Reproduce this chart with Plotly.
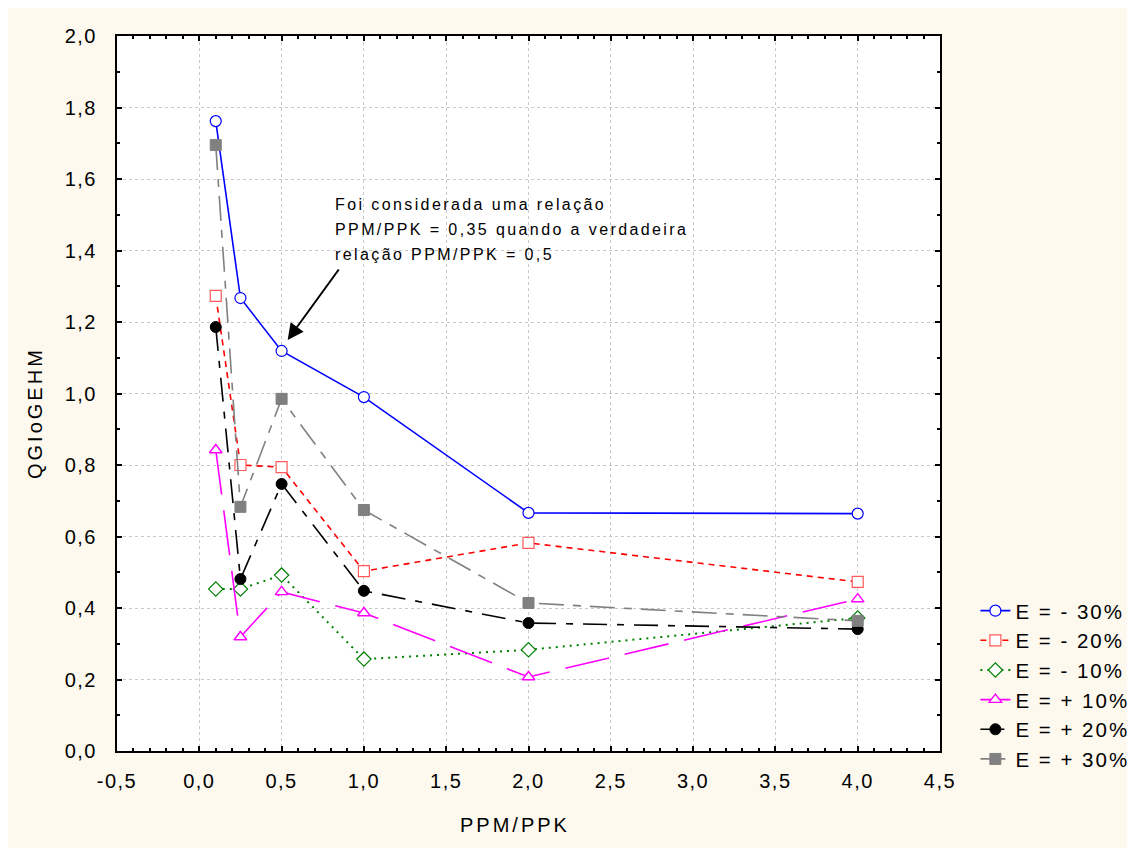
import plotly.graph_objects as go

x_vals = [0.1, 0.25, 0.5, 1.0, 2.0, 4.0]

series_names = ["E = - 30%", "E = - 20%", "E = - 10%", "E = + 10%", "E = + 20%", "E = + 30%"]
e_m30 = [1.762, 1.267, 1.119, 0.990, 0.666, 0.664]
e_m20 = [1.273, 0.800, 0.794, 0.503, 0.582, 0.473]
e_m10 = [0.453, 0.453, 0.492, 0.257, 0.283, 0.372]
e_p10 = [0.842, 0.319, 0.445, 0.386, 0.207, 0.425]
e_p20 = [1.186, 0.481, 0.747, 0.448, 0.358, 0.341]
e_p30 = [1.695, 0.683, 0.985, 0.674, 0.414, 0.364]

x_ticks = [-0.5, 0, 0.5, 1, 1.5, 2, 2.5, 3, 3.5, 4, 4.5]
x_tick_text = ["-0,5", "0,0", "0,5", "1,0", "1,5", "2,0", "2,5", "3,0", "3,5", "4,0", "4,5"]
y_ticks = [0, 0.2, 0.4, 0.6, 0.8, 1.0, 1.2, 1.4, 1.6, 1.8, 2.0]
y_tick_text = ["0,0", "0,2", "0,4", "0,6", "0,8", "1,0", "1,2", "1,4", "1,6", "1,8", "2,0"]

note_lines = ["Foi considerada uma relação",
              "PPM/PPK = 0,35 quando a verdadeira",
              "relação PPM/PPK = 0,5"]

styles = [
    dict(line=dict(color="#0000ff", width=1.6, dash="solid"),
         marker=dict(symbol="circle", size=11, color="white", line=dict(color="#0000ff", width=1.2))),
    dict(line=dict(color="#ff0000", width=1.6, dash="6px,5px"),
         marker=dict(symbol="square", size=11, color="white", line=dict(color="#ff5a5a", width=1.2))),
    dict(line=dict(color="#008000", width=2, dash="2px,5px"),
         marker=dict(symbol="diamond", size=11, color="white", line=dict(color="#008000", width=1.2))),
    dict(line=dict(color="#ff00ff", width=1.6, dash="45px,16px"),
         marker=dict(symbol="triangle-up", size=11, color="white", line=dict(color="#ff00ff", width=1.4))),
    dict(line=dict(color="#000000", width=1.6, dash="24px,10px,7px,10px"),
         marker=dict(symbol="circle", size=11, color="#000000", line=dict(color="#000000", width=1))),
    dict(line=dict(color="#808080", width=1.6, dash="25px,9px,8px,9px"),
         marker=dict(symbol="square", size=11, color="#808080", line=dict(color="#808080", width=1))),
]

data = [e_m30, e_m20, e_m10, e_p10, e_p20, e_p30]


def spaced(s, px):
    return f'<span style="letter-spacing:{px}px">{s}</span>'


fig = go.Figure()
for name, ys, st in zip(series_names, data, styles):
    fig.add_trace(go.Scatter(x=x_vals, y=ys, name=spaced(name, 2.0), mode="lines+markers",
                             line=st["line"], marker=st["marker"]))

font_family = "Liberation Sans, Arial, sans-serif"

axis_common = dict(
    showline=True, linecolor="black", linewidth=2, mirror="ticks",
    ticks="inside", ticklen=5, tickcolor="black", tickwidth=1.5,
    showgrid=True, gridcolor="#c8c8c8", griddash="dot", gridwidth=1,
    zeroline=False,
    tickfont=dict(family=font_family, size=20, color="black"),
    minor=dict(ticks="inside", ticklen=3, tickcolor="black", showgrid=False),
)

fig.update_xaxes(range=[-0.5, 4.5], tickvals=x_ticks,
                 ticktext=[spaced(t, 1.5) for t in x_tick_text],
                 minor_dtick=0.1, ticklabelstandoff=11, **axis_common)
fig.update_yaxes(range=[0, 2.0], tickvals=y_ticks,
                 ticktext=[spaced(t, 1.5) for t in y_tick_text],
                 minor_dtick=0.1, ticklabelstandoff=14, **axis_common)

# page body has an 8px margin; size the figure so it fits the window exactly
L, T, R, B = 117 - 8, 36 - 8, 940 - 8, 751 - 8
W, H = 1135 - 8, 848 - 8
PW, PH = R - L, B - T

annotations = [
    dict(x=0.537, y=1.15, ax=0.854, ay=1.351, xref="x", yref="y", axref="x", ayref="y",
         text="", showarrow=True, arrowhead=2, arrowsize=1.6, arrowwidth=2, arrowcolor="black"),
    dict(x=(515 - 117) / PW, y=-(825 - 751) / PH, xref="paper", yref="paper",
         xanchor="center", yanchor="middle", text=spaced("PPM/PPK", 3), showarrow=False,
         font=dict(size=20, family=font_family)),
    dict(x=-(117 - 35) / PW, y=(751 - 413) / PH, xref="paper", yref="paper",
         xanchor="center", yanchor="middle", text=spaced("QGIoGEHM", 3), textangle=-90,
         showarrow=False, font=dict(size=20, family=font_family)),
]
for i, line in enumerate(note_lines):
    annotations.append(dict(
        x=0.811, y=1.530 - i * 0.070, xref="x", yref="y", xanchor="left", yanchor="middle",
        align="left", text=spaced(line, 2.4), showarrow=False,
        font=dict(size=16, family=font_family, color="black")))

fig.update_layout(
    width=W, height=H,
    margin=dict(l=L, r=W - R, t=T, b=H - B, autoexpand=False),
    paper_bgcolor="#fdf9ef", plot_bgcolor="white",
    separators=", ",
    font=dict(family=font_family, color="black"),
    showlegend=True,
    legend=dict(x=1.043, y=0.224, xanchor="left", yanchor="top",
                bgcolor="rgba(0,0,0,0)", font=dict(size=20.5, family=font_family),
                tracegroupgap=0),
    annotations=annotations,
)

fig.write_html("out.html")
